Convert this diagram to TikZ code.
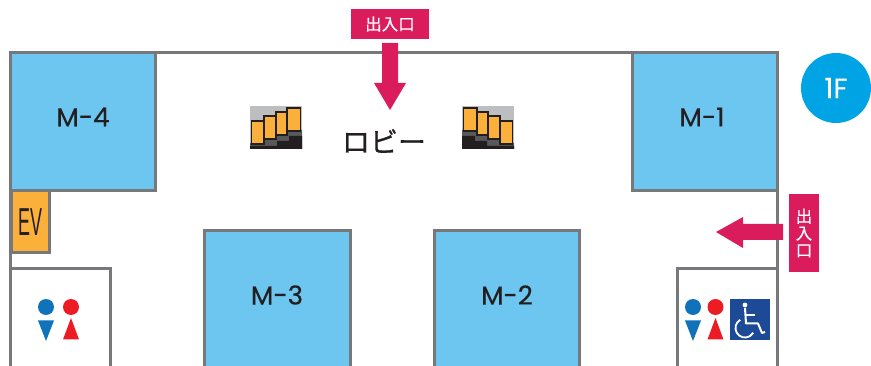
\documentclass[tikz,border=0pt]{standalone}
\usepackage{fontspec}
\setmainfont{Noto Sans CJK JP}
\newfontfamily\latinfont[FakeBold=0.5]{Poppins}
\newfontfamily\narrowfont{Liberation Sans}
\newfontfamily\exitfont[FakeBold=0.5]{Noto Sans CJK JP}
\newfontfamily\lobbyfont[FakeBold=0.7]{Noto Sans CJK JP}
\usepackage{tikz}

\definecolor{wallgray}{HTML}{77787B}
\definecolor{roomblue}{HTML}{6DC6EF}
\definecolor{exitpink}{HTML}{DA1C5C}
\definecolor{evorange}{HTML}{FBB03B}
\definecolor{floorblue}{HTML}{00A4E4}
\definecolor{manblue}{HTML}{0F72BA}
\definecolor{womanred}{HTML}{ED1C24}
\definecolor{chairblue}{HTML}{1C4A97}
\definecolor{stairgray}{HTML}{BCBEC0}
\definecolor{stepgray}{HTML}{58595B}
\definecolor{stairblack}{HTML}{231F20}

\tikzset{
    wall/.style={draw=wallgray, line width=3pt},
    room/.style={wall, fill=roomblue},
    roomlabel/.style={font=\latinfont\fontsize{26}{26}\selectfont, text=stairblack},
    exitlabel/.style={fill=exitpink, text=white, inner sep=0pt, font=\exitfont\fontsize{16.5}{16.5}\selectfont},
    stairbar/.style={draw=stairblack, line width=1.7pt, fill=evorange},
}

\begin{document}
\begin{tikzpicture}[x=1pt, y=-1pt]
    \useasboundingbox (0, 0) rectangle (871, 366);

    \draw[wall] (10, 380) -- (10, 53) -- (777, 53) -- (777, 380); % outer walls

    \draw[room] (10, 53) rectangle (155, 191);
    \draw[room] (632, 53) rectangle (777, 191);
    \draw[room] (204, 231) rectangle (350, 380);
    \draw[room] (434, 231) rectangle (579, 380);
    \node[roomlabel] (M4) at (83, 117) {M-4};
    \node[roomlabel] (M1) at (702, 117) {M-1};
    \node[roomlabel] (M3) at (277, 295) {M-3};
    \node[roomlabel] (M2) at (507, 295) {M-2};

    \draw[wall, fill=evorange] (11, 191) rectangle (49, 253); % lift
    \node[font=\narrowfont\fontsize{39}{39}\selectfont, xscale=0.46, text=stairblack] (EV) at (30, 222) {EV};

    \draw[wall] (10, 269) -- (110, 269) -- (110, 380); % left toilet
    \draw[wall] (677, 380) -- (677, 269) -- (777, 269); % right toilet

    % top entrance
    \fill[exitpink] (382, 43) -- (398, 43) -- (398, 83) -- (406, 83) -- (390, 110) -- (374, 83) -- (382, 83) -- cycle;
    \node[exitlabel, minimum width=78pt, minimum height=30pt] (exittop) at (390, 24) {出入口};

    % right entrance
    \fill[exitpink] (783, 224) -- (783, 240) -- (743, 240) -- (743, 248) -- (716, 232) -- (743, 217) -- (743, 224) -- cycle;
    \node[exitlabel, minimum width=30pt, minimum height=78pt, align=center] (exitright) at (804, 233) {出\\[0.5pt]入\\[0.5pt]口};

    \node[circle, fill=floorblue, minimum size=70pt, inner sep=0pt, text=white, font=\latinfont\fontsize{28}{28}\selectfont] (floor) at (836, 88) {1F};

    \node[font=\lobbyfont\fontsize{28}{28}\selectfont, text=stairblack] (lobby) at (384, 141) {ロビー};

    % left stairs
    \fill[stairgray] (250, 106) rectangle (302, 149);
    \fill[stepgray] (250, 149) -- (250, 143) -- (264, 143) -- (264, 138) -- (276, 138) -- (276, 134) -- (287, 134) -- (287, 130) -- (302, 130) -- (302, 149) -- cycle;
    \fill[stairblack] (250, 149) -- (250, 146) -- (277, 146) -- (277, 141) -- (289, 141) -- (289, 136) -- (302, 136) -- (302, 149) -- cycle;
    \draw[stairbar] (251.5, 121) rectangle (264, 144);
    \draw[stairbar] (264, 116) rectangle (276, 139);
    \draw[stairbar] (276, 112) rectangle (287, 135);
    \draw[stairbar] (287, 108) rectangle (300.5, 131);

    % right stairs
    \fill[stairgray] (462, 106) rectangle (514, 149);
    \fill[stepgray] (514, 149) -- (514, 143) -- (500, 143) -- (500, 138) -- (488, 138) -- (488, 134) -- (477, 134) -- (477, 130) -- (462, 130) -- (462, 149) -- cycle;
    \fill[stairblack] (514, 149) -- (514, 146) -- (487, 146) -- (487, 141) -- (475, 141) -- (475, 136) -- (462, 136) -- (462, 149) -- cycle;
    \draw[stairbar] (512.5, 121) rectangle (500, 144);
    \draw[stairbar] (500, 116) rectangle (488, 139);
    \draw[stairbar] (488, 112) rectangle (477, 135);
    \draw[stairbar] (477, 108) rectangle (463.5, 131);

    % left toilet signs
    \fill[manblue] (46, 307) circle (8);
    \fill[manblue] (38, 320.5) -- (54, 320.5) -- (46, 341) -- cycle;
    \fill[womanred] (71, 307) circle (8);
    \fill[womanred] (71, 318) -- (79, 339.5) -- (63, 339.5) -- cycle;

    % right toilet signs
    \fill[manblue] (693, 307) circle (8);
    \fill[manblue] (685, 320.5) -- (701, 320.5) -- (693, 341) -- cycle;
    \fill[womanred] (715.5, 307) circle (8);
    \fill[womanred] (715.5, 318) -- (723.5, 339.5) -- (707.5, 339.5) -- cycle;

    % wheelchair
    \fill[chairblue] (729.5, 299) rectangle (770, 340);
    \fill[white] (745, 305) circle (2.4);
    \draw[white, line width=2pt, line join=round] (745, 308) -- (746, 323.5) -- (758, 323.5) -- (762, 333) -- (765, 332);
    \draw[white, line width=2pt] (745.5, 315) -- (755, 315);
    \draw[white, line width=1.8pt] (740.25, 319.8) arc (240:30:9.5);
\end{tikzpicture}
\end{document}
